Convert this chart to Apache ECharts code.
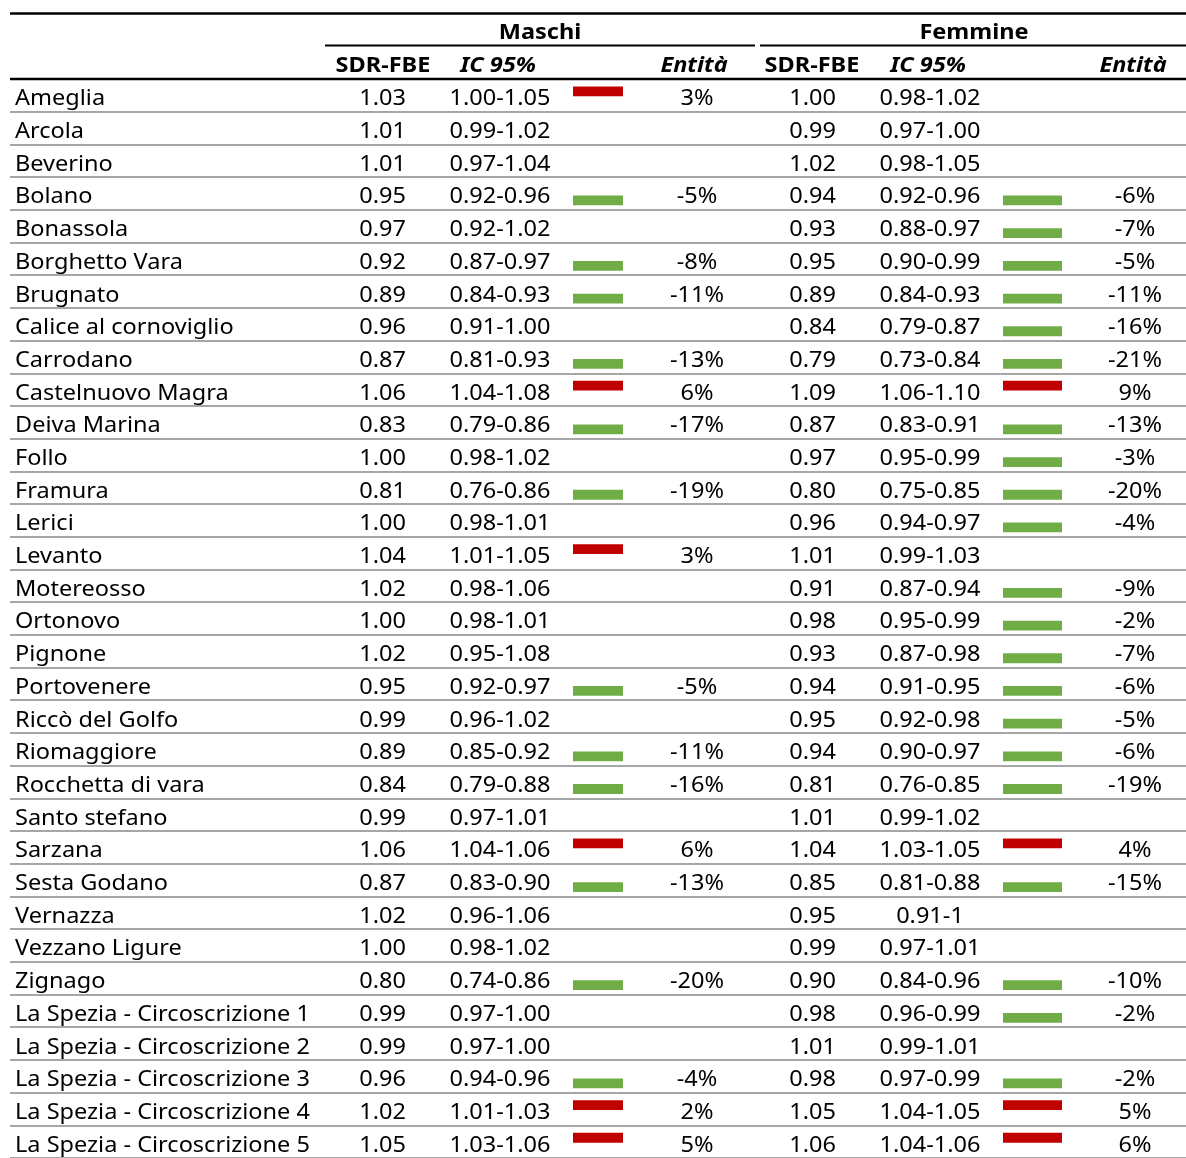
<!DOCTYPE html>
<html><head><meta charset="utf-8">
<script src="https://cdn.jsdelivr.net/npm/echarts@6/dist/echarts.min.js"></script>
<style>html,body{margin:0;padding:0;background:#fff}#c{width:1186px;height:1158px}</style>
</head><body><div id="c"></div>
<script>
const names = ["Ameglia","Arcola","Beverino","Bolano","Bonassola","Borghetto Vara","Brugnato","Calice al cornoviglio","Carrodano","Castelnuovo Magra","Deiva Marina","Follo","Framura","Lerici","Levanto","Motereosso","Ortonovo","Pignone","Portovenere","Riccò del Golfo","Riomaggiore","Rocchetta di vara","Santo stefano","Sarzana","Sesta Godano","Vernazza","Vezzano Ligure","Zignago","La Spezia - Circoscrizione 1","La Spezia - Circoscrizione 2","La Spezia - Circoscrizione 3","La Spezia - Circoscrizione 4","La Spezia - Circoscrizione 5"];
const maschiSDR = [1.03,1.01,1.01,0.95,0.97,0.92,0.89,0.96,0.87,1.06,0.83,1.00,0.81,1.00,1.04,1.02,1.00,1.02,0.95,0.99,0.89,0.84,0.99,1.06,0.87,1.02,1.00,0.80,0.99,0.99,0.96,1.02,1.05];
const maschiIC = ["1.00-1.05","0.99-1.02","0.97-1.04","0.92-0.96","0.92-1.02","0.87-0.97","0.84-0.93","0.91-1.00","0.81-0.93","1.04-1.08","0.79-0.86","0.98-1.02","0.76-0.86","0.98-1.01","1.01-1.05","0.98-1.06","0.98-1.01","0.95-1.08","0.92-0.97","0.96-1.02","0.85-0.92","0.79-0.88","0.97-1.01","1.04-1.06","0.83-0.90","0.96-1.06","0.98-1.02","0.74-0.86","0.97-1.00","0.97-1.00","0.94-0.96","1.01-1.03","1.03-1.06"];
const maschiEnt = [3,null,null,-5,null,-8,-11,null,-13,6,-17,null,-19,null,3,null,null,null,-5,null,-11,-16,null,6,-13,null,null,-20,null,null,-4,2,5];
const femmineSDR = [1.00,0.99,1.02,0.94,0.93,0.95,0.89,0.84,0.79,1.09,0.87,0.97,0.80,0.96,1.01,0.91,0.98,0.93,0.94,0.95,0.94,0.81,1.01,1.04,0.85,0.95,0.99,0.90,0.98,1.01,0.98,1.05,1.06];
const femmineIC = ["0.98-1.02","0.97-1.00","0.98-1.05","0.92-0.96","0.88-0.97","0.90-0.99","0.84-0.93","0.79-0.87","0.73-0.84","1.06-1.10","0.83-0.91","0.95-0.99","0.75-0.85","0.94-0.97","0.99-1.03","0.87-0.94","0.95-0.99","0.87-0.98","0.91-0.95","0.92-0.98","0.90-0.97","0.76-0.85","0.99-1.02","1.03-1.05","0.81-0.88","0.91-1","0.97-1.01","0.84-0.96","0.96-0.99","0.99-1.01","0.97-0.99","1.04-1.05","1.04-1.06"];
const femmineEnt = [null,null,null,-6,-7,-5,-11,-16,-21,9,-13,-3,-20,-4,null,-9,-2,-7,-6,-5,-6,-19,null,4,-15,null,null,-10,-2,null,-2,5,6];
const groupTitles = ["Maschi","Femmine"];
const colTitles = ["SDR-FBE","IC 95%","Entità"];

// layout (pixel-like x units on hidden value axis)
const COL = {
  name: 15,
  m: {sdr: 406, ic: 500, barL: 573, barR: 623, ent: 697},
  f: {sdr: 836, ic: 930, barL: 1003, barR: 1062, ent: 1135}
};
const FONT = '21px "Noto Sans"';
const SX = 1.12;   // horizontal stretch of the text
const DY = 4;      // vertical nudge of text within the row
const RED = '#c00000', GREEN = '#70ad47';

function textSeries(colX, texts, align) {
  return {
    type: 'custom',
    coordinateSystem: 'cartesian2d',
    encode: {x: 0, y: 1},
    data: texts.map((t, i) => [colX, i]),
    silent: true,
    renderItem: function (params, api) {
      const p = api.coord([api.value(0), api.value(1)]);
      const t = texts[params.dataIndex];
      if (t === null || t === '') return null;
      return {type: 'text', x: p[0], y: p[1] + DY, scaleX: SX,
        style: {text: t, font: FONT, fill: '#000', align: align, verticalAlign: 'middle'}};
    }
  };
}
function barSeries(col, ents) {
  const rows = [];
  ents.forEach((v, i) => { if (v !== null) rows.push([col.barL, i, col.barR]); });
  return {
    type: 'custom', coordinateSystem: 'cartesian2d', encode: {x: 0, y: 1}, silent: true,
    data: rows,
    renderItem: function (params, api) {
      const i = api.value(1);
      const v = ents[i];
      const p0 = api.coord([api.value(0), i]);
      const p1 = api.coord([api.value(2), i]);
      const h = api.size([0, 1])[1];
      const top = p0[1] - h / 2;
      const y = v > 0 ? top + 0.23 * h : top + 0.565 * h;
      return {type: 'rect', shape: {x: p0[0], y: y, width: p1[0] - p0[0], height: 0.3 * h},
        style: {fill: v > 0 ? RED : GREEN}};
    }
  };
}
const fmt2 = a => a.map(v => v.toFixed(2));
const fmtPct = a => a.map(v => v === null ? null : v + '%');

const chart = echarts.init(document.getElementById('c'), null, {renderer: 'canvas'});
const hdrBold = 'bold 21px "Noto Sans"';
const hdrIt = 'italic bold 21px "Noto Sans"';
function htext(x, y, t, f) {
  return {type: 'text', x: x, y: y, scaleX: SX, z: 100, style: {text: t, font: f, fill: '#000', align: 'center', verticalAlign: 'middle'}};
}
function hline(x1, x2, y, w) {
  return {type: 'line', z: 100, shape: {x1: x1, y1: y, x2: x2, y2: y}, style: {stroke: '#000', lineWidth: w}};
}
chart.setOption({
  animation: false,
  grid: {left: 10, right: 0, top: 79, height: 33 * 32.78},
  xAxis: {type: 'value', min: 10, max: 1186, show: false},
  yAxis: {type: 'category', inverse: true, data: names,
    axisLine: {show: false}, axisTick: {show: false}, axisLabel: {show: false},
    splitLine: {show: true, interval: 0, lineStyle: {color: '#a6a6a6', width: 2}}},
  series: [
    textSeries(COL.name, names, 'left'),
    textSeries(COL.m.sdr, fmt2(maschiSDR), 'right'),
    textSeries(COL.m.ic, maschiIC, 'center'),
    textSeries(COL.m.ent, fmtPct(maschiEnt), 'center'),
    barSeries(COL.m, maschiEnt),
    textSeries(COL.f.sdr, fmt2(femmineSDR), 'right'),
    textSeries(COL.f.ic, femmineIC, 'center'),
    textSeries(COL.f.ent, fmtPct(femmineEnt), 'center'),
    barSeries(COL.f, femmineEnt)
  ],
  graphic: [
    hline(10, 1186, 13.5, 2.5),
    htext(540, 33, groupTitles[0], hdrBold),
    htext(974, 33, groupTitles[1], hdrBold),
    hline(325, 755, 45.5, 2),
    hline(760, 1186, 45.5, 2),
    htext(383, 66, colTitles[0], hdrBold),
    htext(498, 66, colTitles[1], hdrIt),
    htext(694, 66, colTitles[2], hdrIt),
    htext(812, 66, colTitles[0], hdrBold),
    htext(928, 66, colTitles[1], hdrIt),
    htext(1133, 66, colTitles[2], hdrIt),
    hline(10, 1186, 79, 2.5)
  ]
});
</script></body></html>
